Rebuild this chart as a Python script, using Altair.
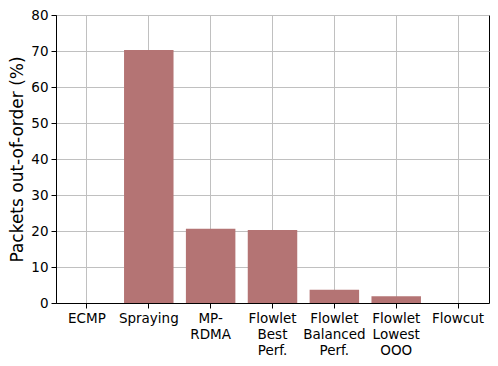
import altair as alt
import pandas as pd

categories = ["ECMP", "Spraying", "MP-\nRDMA", "Flowlet\nBest\nPerf.",
              "Flowlet\nBalanced\nPerf.", "Flowlet\nLowest\nOOO", "Flowcut"]
values = [0.0, 70.3, 20.6, 20.3, 3.7, 1.9, 0.0]

df = pd.DataFrame({"cat": categories, "val": values})

FONT = "DejaVu Sans"

chart = alt.Chart(df).mark_bar(color="#b47474").encode(
    x=alt.X("cat:N", sort=categories, title=None,
            scale=alt.Scale(paddingInner=0.2, paddingOuter=0.1),
            axis=alt.Axis(labelAngle=0, labelExpr="split(datum.label, '\\n')",
                          labelLineHeight=16, labelFontSize=13.5, labelFont=FONT,
                          labelColor="black", tickColor="black", tickSize=5,
                          domainColor="black", bandPosition=0.5, grid=True,
                          gridColor="#c0c0c0", gridWidth=1, labelPadding=3)),
    y=alt.Y("val:Q", title="Packets out-of-order (%)",
            scale=alt.Scale(domain=[0, 80], nice=False),
            axis=alt.Axis(values=list(range(0, 81, 10)), labelFontSize=13.5,
                          labelFont=FONT, labelColor="black", tickColor="black",
                          tickSize=5, domainColor="black", gridColor="#c0c0c0",
                          gridWidth=1, titleFont=FONT, titleFontSize=17,
                          titleFontWeight="normal", titleColor="black",
                          titlePadding=4, labelPadding=3)),
).properties(
    width=433, height=288,
    autosize=alt.AutoSizeParams(type="none"),
    padding={"left": 48, "top": 7, "right": 1, "bottom": 62},
).configure_view(stroke="black", strokeWidth=1)

chart.save("out.html", embed_options={"renderer": "svg", "actions": False})
